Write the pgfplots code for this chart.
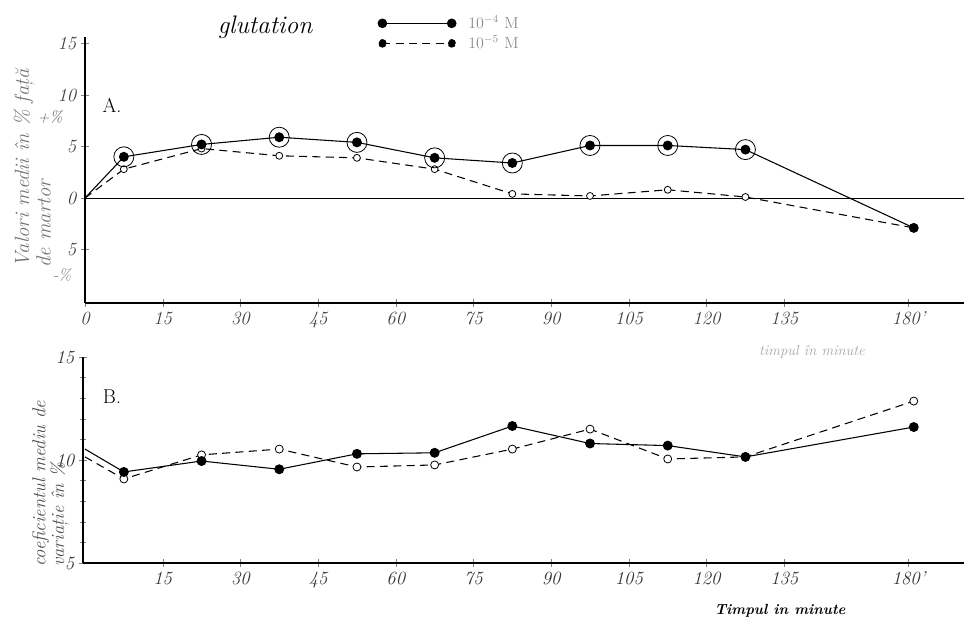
\documentclass[border=0pt]{standalone}
\usepackage{pgfplots}
\pgfplotsset{compat=1.18}
\usepackage{fontspec}
\begin{document}
\begin{tikzpicture}
\path[use as bounding box] (0pt,0pt) rectangle (723pt,466.5pt);
% ---------------- panel A ----------------
\begin{axis}[
  at={(63.75pt,239.25pt)}, anchor=south west,
  scale only axis, width=659.25pt, height=199.5pt,
  xmin=0, xmax=169.7, ymin=-10.19, ymax=15.63,
  axis x line*=bottom, axis y line*=left,
  axis line style={-, line width=0.9pt},
  tick align=center, major tick length=6pt,
  xtick={0,15,30,45,60,75,90,105,120,135,159},
  xticklabels={0,15,30,45,60,75,90,105,120,135,180'},
  ytick={-5,0,5,10,15},
  yticklabels={5,0,5,10,15},
  tick label style={font=\itshape\fontsize{14}{15}\selectfont, text=black!75},
  clip=false,
  reverse legend,
  legend style={at={(axis description cs:0.328,1.10)}, anchor=north west,
    draw=none, fill=none, font=\fontsize{12}{14}\selectfont, text=black!45,
    row sep=0pt, legend cell align=left},
]
\addplot[black, line width=0.7pt, forget plot] coordinates {(0,0) (169.7,0)};
\addplot[black, line width=0.8pt, dash pattern=on 6pt off 4pt,
  mark=*, mark options={solid, fill=white, line width=0.6pt}, mark size=2.6pt,
  mark indices={2,3,4,5,6,7,8,9,10},
  legend image code/.code={\draw[black, line width=0.8pt, dash pattern=on 6pt off 4pt] (0pt,0pt) -- (52pt,0pt); \fill[black] (0pt,0pt) circle (2.8pt); \fill[black] (52pt,0pt) circle (2.8pt); \path (62pt,0pt);}]
coordinates {(0,0) (7.5,2.8) (22.5,4.8) (37.5,4.1) (52.5,3.9) (67.5,2.8) (82.5,0.4) (97.5,0.2) (112.5,0.8) (127.5,0.1) (160,-2.9)};
\addlegendentry{$10^{-5}$ M}
\addplot[black, line width=0.8pt, mark=*, mark size=3.3pt,
  mark indices={2,3,4,5,6,7,8,9,10,11},
  legend image code/.code={\draw[black, line width=0.8pt] (0pt,0pt) -- (52pt,0pt); \fill[black] (0pt,0pt) circle (3.2pt); \fill[black] (52pt,0pt) circle (3.2pt); \path (62pt,0pt);}]
coordinates {(0,0) (7.5,4.0) (22.5,5.2) (37.5,5.9) (52.5,5.4) (67.5,3.9) (82.5,3.4) (97.5,5.1) (112.5,5.1) (127.5,4.7) (160,-2.9)};
\addlegendentry{$10^{-4}$ M}
\addplot[only marks, mark=o, mark size=7.5pt, mark options={black, line width=0.6pt}, forget plot]
coordinates {(7.5,4.0) (22.5,5.2) (37.5,5.9) (52.5,5.4) (67.5,3.9) (82.5,3.4) (97.5,5.1) (112.5,5.1) (127.5,4.7)};
\end{axis}
% ---------------- panel B ----------------
\begin{axis}[
  at={(62.25pt,44.25pt)}, anchor=south west,
  scale only axis, width=660.75pt, height=154.5pt,
  xmin=-0.39, xmax=169.7, ymin=5, ymax=15,
  axis x line*=bottom, axis y line*=left,
  axis line style={-, line width=1.1pt},
  tick align=center, major tick length=6pt, minor tick length=5pt,
  xtick={15,30,45,60,75,90,105,120,135,159},
  xticklabels={15,30,45,60,75,90,105,120,135,180'},
  ytick={5,10,15}, yticklabels={5,10,15},
  minor ytick={6,7,8,9,11,12,13,14},
  tick label style={font=\itshape\fontsize{14}{15}\selectfont, text=black!80},
  clip=false,
]
\addplot[black, line width=0.8pt, dash pattern=on 6pt off 4pt,
  mark=*, mark options={solid, fill=white, line width=0.6pt}, mark size=3pt,
  mark indices={2,3,4,5,6,7,8,9,10,11}]
coordinates {(0,10.15) (7.5,9.08) (22.5,10.25) (37.5,10.53) (52.5,9.66) (67.5,9.76) (82.5,10.53) (97.5,11.5) (112.5,10.05) (127.5,10.15) (160,12.86)};
\addplot[black, line width=0.8pt, mark=*, mark size=3.3pt,
  mark indices={2,3,4,5,6,7,8,9,10,11}]
coordinates {(0,10.53) (7.5,9.42) (22.5,9.95) (37.5,9.55) (52.5,10.3) (67.5,10.35) (82.5,11.65) (97.5,10.8) (112.5,10.7) (127.5,10.15) (160,11.6)};
\end{axis}
% ---------------- texts ----------------
\node[font=\itshape\fontsize{19}{21}\selectfont] at (198.75pt,446.25pt) {glutation};
\node[font=\fontsize{15}{17}\selectfont] at (84pt,387.75pt) {A.};
\node[font=\fontsize{15}{17}\selectfont] at (84pt,168.75pt) {B.};
\node[font=\itshape\fontsize{12}{14}\selectfont, text=black!60] at (37.5pt,378.75pt) {+\%};
\node[font=\itshape\fontsize{12}{14}\selectfont, text=black!50] at (46.5pt,260.25pt) {-\%};
\node[rotate=90, align=left, anchor=north west, inner sep=0pt,
  font=\itshape\fontsize{15.5}{15}\selectfont, text=black!55] at (10pt,265.5pt)
  {Valori medii în \% față\\ de martor};
\node[rotate=90, align=left, anchor=north west, inner sep=0pt,
  font=\itshape\fontsize{14}{14}\selectfont, text=black!70] at (24pt,41.25pt)
  {coeficientul mediu de\\ variație în \%};
\node[font=\itshape\fontsize{11}{13}\selectfont, text=black!35] at (609pt,202.5pt) {timpul în minute};
\node[font=\bfseries\itshape\fontsize{11}{13}\selectfont] at (585pt,8.25pt) {Timpul in minute};
\end{tikzpicture}
\end{document}
